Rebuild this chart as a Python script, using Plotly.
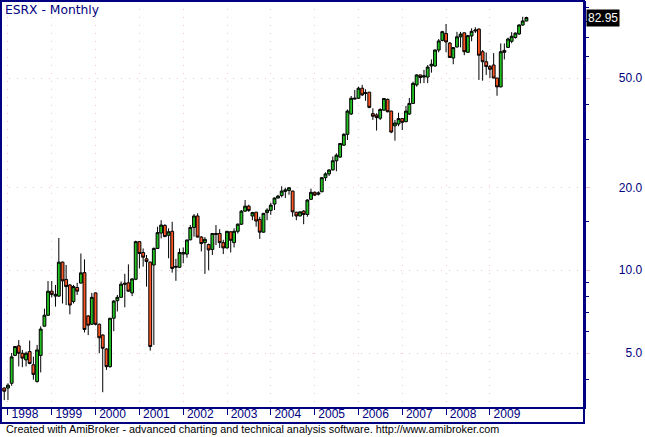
import math
import pandas as pd
import plotly.graph_objects as go

# Monthly OHLC for ESRX, Dec 1997 .. Nov 2009
opens = [3.73,
 3.73, 3.88, 4.90, 5.31, 4.99, 4.72, 5.06, 4.53, 3.94, 4.90, 6.26, 6.86,
 8.39, 8.05, 8.05, 10.7, 9.26, 8.84, 7.69, 8.65, 8.98, 9.80, 6.82, 6.36,
 8.27, 6.36, 5.81, 5.17, 4.46, 6.69, 7.75, 7.97, 8.98, 9.00, 8.27, 9.27,
 12.7, 11.6, 11.0, 10.7, 10.45, 12.0, 13.65, 14.55, 13.4, 13.85, 10.25, 10.25,
 11.45, 11.45, 12.9, 14.3, 15.75, 13.2, 12.6, 12.4, 11.9, 13.6, 13.6, 12.6,
 12.05, 13.8, 12.6, 13.85, 14.7, 16.4, 17.1, 15.75, 16.25, 15.3, 13.75, 16.2,
 16.5, 17.4, 18.3, 18.7, 19.35, 19.5, 19.4, 16.25, 15.75, 16.4, 15.95, 18.1,
 19.2, 18.9, 19.3, 21.7, 22.4, 23.15, 25.0, 25.8, 28.5, 31.2, 37.0, 41.9,
 42.2, 45.9, 43.9, 44.4, 37.1, 36.7, 35.7, 38.2, 41.8, 37.9, 33.5, 34.0,
 35.6, 34.7, 37.0, 40.4, 47.2, 51.3, 50.4, 50.4, 55.3, 55.3, 63.2, 68.5,
 72.6, 67.0, 59.1, 64.8, 70.6, 73.0, 62.0, 71.1, 74.1, 75.3, 62.3, 57.3,
 55.0, 55.75, 50.0, 46.4, 63.0, 64.6, 68.0, 70.2, 72.3, 77.9, 80.6]
highs = [3.75,
 3.88, 5.00, 5.30, 5.57, 5.13, 5.06, 5.55, 4.85, 5.35, 6.25, 7.25, 9.13,
 9.13, 8.84, 13.1, 10.75, 10.45, 8.90, 8.84, 9.00, 11.5, 10.95, 6.87, 8.27,
 8.30, 6.40, 5.85, 5.20, 6.70, 7.79, 8.13, 9.10, 9.70, 10.5, 9.32, 12.8,
 12.75, 12.0, 11.36, 10.75, 12.1, 14.4, 15.2, 14.7, 14.2, 15.0, 11.0, 12.0,
 12.1, 12.9, 14.6, 16.0, 16.1, 13.3, 13.2, 12.5, 13.65, 14.6, 14.1, 12.9,
 13.9, 13.85, 14.2, 14.8, 16.55, 18.0, 17.3, 16.3, 16.3, 15.65, 16.15, 16.8,
 17.6, 18.4, 18.8, 20.2, 19.95, 20.0, 19.45, 16.3, 16.35, 16.55, 18.1, 19.8,
 19.35, 19.35, 21.8, 22.7, 23.3, 25.9, 26.6, 29.0, 31.5, 38.4, 43.0, 45.2,
 46.5, 47.2, 45.5, 44.5, 38.8, 37.2, 38.8, 42.3, 42.1, 38.0, 35.2, 37.4,
 35.7, 39.6, 42.3, 48.5, 51.6, 51.35, 53.5, 55.75, 58.4, 63.6, 69.3, 74.2,
 78.6, 67.5, 64.8, 73.6, 73.6, 73.1, 71.7, 75.8, 76.5, 75.8, 63.2, 61.9,
 55.75, 61.6, 50.05, 66.8, 66.8, 70.1, 73.4, 73.2, 78.5, 83.5, 83.5]
lows = [3.37,
 3.37, 3.80, 4.87, 4.47, 4.44, 4.47, 4.55, 4.00, 3.90, 4.25, 6.24, 6.82,
 7.97, 7.37, 8.00, 7.57, 7.47, 6.91, 7.57, 8.13, 8.95, 5.94, 5.81, 6.33,
 6.30, 4.99, 3.60, 4.34, 4.42, 6.00, 7.08, 7.95, 7.33, 8.35, 8.05, 9.20,
 10.15, 10.3, 8.72, 5.10, 5.35, 11.95, 13.05, 13.2, 11.05, 9.80, 9.15, 10.2,
 10.6, 11.1, 12.85, 13.25, 13.15, 11.7, 9.70, 10.0, 11.36, 12.35, 12.05, 11.45,
 12.0, 11.6, 12.1, 13.6, 14.6, 16.3, 16.3, 15.2, 14.4, 13.0, 13.7, 15.2,
 15.9, 16.55, 18.25, 18.4, 18.3, 18.8, 15.65, 15.2, 15.7, 14.7, 15.65, 18.0,
 18.6, 18.7, 19.2, 21.1, 22.0, 23.1, 22.9, 25.6, 28.3, 29.75, 36.7, 41.8,
 42.0, 43.0, 41.3, 38.8, 35.2, 32.2, 35.2, 38.0, 37.5, 31.5, 29.6, 33.4,
 32.35, 34.5, 36.7, 40.2, 46.5, 47.8, 47.9, 47.9, 52.3, 55.0, 62.0, 68.0,
 62.0, 59.1, 56.1, 64.6, 64.6, 60.5, 61.9, 68.0, 72.9, 49.2, 48.9, 51.3,
 50.0, 49.9, 43.1, 46.3, 58.4, 64.3, 66.9, 69.5, 71.7, 77.4, 80.4]
closes = [3.63,
 3.82, 4.84, 5.28, 4.99, 4.79, 4.99, 4.58, 4.18, 5.13, 6.11, 6.86, 8.39,
 8.17, 8.17, 10.7, 9.15, 8.72, 7.47, 8.72, 8.39, 9.78, 6.09, 6.31, 7.97,
 6.36, 5.68, 5.20, 4.46, 6.69, 7.72, 7.97, 8.90, 8.90, 8.39, 9.30, 12.7,
 11.5, 11.15, 10.75, 5.28, 12.0, 13.7, 14.6, 13.25, 13.8, 10.15, 10.32, 11.6,
 11.6, 12.88, 14.3, 15.75, 13.2, 12.5, 12.95, 11.85, 13.6, 13.5, 12.6, 12.05,
 13.85, 12.85, 13.85, 14.7, 16.4, 17.1, 16.5, 16.2, 15.1, 13.75, 16.1, 16.55,
 17.25, 18.3, 18.6, 19.4, 19.6, 19.95, 16.3, 15.75, 16.3, 15.95, 18.0, 19.2,
 18.75, 19.1, 21.7, 22.4, 23.15, 25.0, 26.2, 28.9, 31.2, 37.9, 42.2, 42.2,
 45.9, 43.4, 44.2, 39.1, 36.3, 35.9, 38.4, 42.1, 37.7, 31.8, 34.3, 35.6,
 34.5, 37.9, 40.4, 47.8, 51.3, 50.2, 50.9, 54.8, 56.1, 63.2, 68.2, 73.7,
 67.6, 59.4, 64.5, 70.6, 72.2, 62.3, 71.3, 73.9, 74.7, 60.5, 57.3, 55.0,
 53.8, 50.0, 46.4, 62.3, 62.0, 69.3, 70.9, 72.8, 77.9, 80.6, 82.95]

dates = pd.date_range("1997-12-01", periods=len(closes), freq="MS")

years = list(range(1998, 2010))
year_ticks = [f"{y}-01-01" for y in years]
year_labels = [str(y) for y in years]

price_ticks = [5, 10, 20, 50]
price_labels = ["5.0", "10.0", "20.0", "50.0"]
minor_ticks = [4, 6, 7, 8, 9, 15, 30, 40, 60, 70, 80, 90]

NAVY = "#000080"
GRID = "#f4c4cc"
FONT = "Liberation Sans, Arial, sans-serif"
NB = "\u00a0"


def pad_right_aligned(labels, total=14):
    # right-align the labels by padding with no-break spaces (half a digit each)
    out = []
    for s in labels:
        digits = len(s.replace(".", ""))
        out.append(NB * (total - 2 * digits) + s)
    return out


fig = go.Figure(go.Candlestick(
    x=dates, open=opens, high=highs, low=lows, close=closes,
    increasing=dict(line=dict(color="black", width=1), fillcolor="#20c020"),
    decreasing=dict(line=dict(color="black", width=1), fillcolor="#ff5522"),
    whiskerwidth=0, showlegend=False, hoverinfo="skip",
))

plot_h = 437 - 1 - 30

fig.update_layout(
    width=645, height=437,
    margin=dict(l=1, r=61, t=1, b=30),
    paper_bgcolor="white", plot_bgcolor="white",
    font=dict(family=FONT, size=12, color=NAVY),
    showlegend=False,
    boxgap=0.15, boxgroupgap=0,
    xaxis=dict(
        type="date", range=["1997-11-04", "2011-02-24"],
        rangeslider=dict(visible=False),
        tickmode="array", tickvals=year_ticks, ticktext=year_labels,
        ticks="", ticklen=0,
        tickfont=dict(family=FONT, size=12, color=NAVY),
        ticklabelshift=17, ticklabelstandoff=-5,
        showgrid=True, gridcolor=GRID, griddash="1px,7px", gridwidth=1,
        showline=True, linecolor=NAVY, linewidth=1.5,
        zeroline=False, fixedrange=True,
        minor=dict(tickmode="array", tickvals=year_ticks, ticks="outside",
                   ticklen=6, tickcolor=NAVY, tickwidth=1, showgrid=False),
    ),
    yaxis=dict(
        type="log", side="right",
        range=[0.50261, 1.97897],
        tickmode="array", tickvals=price_ticks,
        ticktext=pad_right_aligned(price_labels),
        ticks="outside", ticklen=4, tickcolor=GRID,
        tickfont=dict(family=FONT, size=12, color=NAVY),
        showgrid=True, gridcolor=GRID, griddash="1px,7px", gridwidth=1,
        showline=True, linecolor=NAVY, linewidth=1.5,
        zeroline=False, fixedrange=True,
        minor=dict(tickmode="array", tickvals=minor_ticks, ticks="outside",
                   ticklen=3, tickcolor=NAVY, showgrid=False),
    ),
    shapes=[dict(type="rect", xref="paper", yref="paper",
                 x0=0, x1=1, y0=-16 / plot_h, y1=1,
                 line=dict(color=NAVY, width=2), layer="above")],
    annotations=[
        dict(text="ESRX - Monthly", xref="paper", yref="paper", x=0, y=1,
             xanchor="left", yanchor="top", xshift=2, showarrow=False,
             font=dict(family="DejaVu Sans, sans-serif", size=12.3, color=NAVY)),
        dict(text="Created with AmiBroker - advanced charting and technical analysis software. http://www.amibroker.com",
             xref="paper", yref="paper", x=0, y=0, xanchor="left", yanchor="bottom",
             xshift=3, yshift=-30, showarrow=False,
             font=dict(family=FONT, size=10.8, color="black")),
        dict(text=f"{closes[-1]:.2f}", xref="paper", yref="y", x=1,
             y=math.log10(closes[-1]), xanchor="left", yanchor="middle",
             xshift=2, showarrow=False, bgcolor="black", borderpad=1,
             font=dict(family=FONT, size=12, color="white")),
    ],
)

fig.write_html(
    "out.html",
    config={"displayModeBar": False},
    post_script="document.body.style.margin='0';document.body.style.padding='0';",
)
